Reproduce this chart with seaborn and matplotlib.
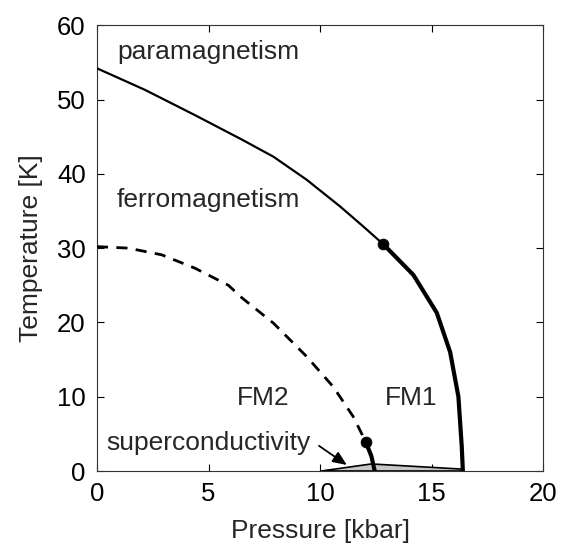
import matplotlib
matplotlib.use("Agg")
import matplotlib.pyplot as plt
import seaborn as sns

sns.set_theme(style="white")
plt.rcParams['font.family'] = ['Liberation Sans', 'DejaVu Sans']

# Curie temperature (paramagnetic / ferromagnetic boundary), thin part
tc_p = [0.0, 2.15, 4.39, 6.5, 7.91, 9.40, 10.9, 11.94, 12.84]
tc_t = [54.2, 51.3, 47.9, 44.6, 42.3, 39.2, 35.6, 32.9, 30.5]
# first-order part (thick)
tc1_p = [12.84, 14.18, 15.23, 15.83, 16.2, 16.35, 16.4]
tc1_t = [30.5, 26.4, 21.3, 16.0, 10.0, 3.3, 0.0]
# FM1/FM2 crossover (dashed)
tx_p = [0.0, 1.40, 2.9, 4.39, 5.89, 6.5, 7.91, 9.40, 10.6, 11.49, 12.05]
tx_t = [30.2, 30.0, 29.1, 27.3, 25.0, 23.3, 19.9, 15.4, 11.3, 7.3, 3.9]
# first-order part of Tx (thick)
tx1_p = [12.05, 12.3, 12.45]
tx1_t = [3.9, 2.0, 0.0]
# critical points
crit_p = [12.84, 12.05]
crit_t = [30.5, 3.9]
# superconducting dome
sc_p = [10.05, 12.3, 16.4, 16.4, 10.05]
sc_t = [0.0, 0.95, 0.25, 0.0, 0.0]

fig = plt.figure(figsize=(5.67, 5.48), dpi=100)
ax = fig.add_axes([0.171, 0.1405, 0.787, 0.8135])

ax.fill(sc_p, sc_t, facecolor="#c8c8c8", edgecolor="black", linewidth=1.2, zorder=2)

sns.lineplot(x=tc_p, y=tc_t, ax=ax, color="black", linewidth=1.6, sort=False, estimator=None, zorder=3)
sns.lineplot(x=tc1_p, y=tc1_t, ax=ax, color="black", linewidth=3.0, sort=False, estimator=None, zorder=3)
sns.lineplot(x=tx_p, y=tx_t, ax=ax, color="black", linewidth=2.0, sort=False, estimator=None,
             linestyle=(0, (4.0, 3.0)), zorder=3)
sns.lineplot(x=tx1_p, y=tx1_t, ax=ax, color="black", linewidth=3.0, sort=False, estimator=None, zorder=3)
sns.scatterplot(x=crit_p, y=crit_t, ax=ax, color="black", s=60, edgecolor="black", zorder=4)

fs = 19
ax.text(0.9, 56.4, "paramagnetism", fontsize=fs, va="center", ha="left")
ax.text(0.9, 36.5, "ferromagnetism", fontsize=fs, va="center", ha="left")
ax.text(6.26, 9.8, "FM2", fontsize=fs, va="center", ha="left")
ax.text(12.9, 9.8, "FM1", fontsize=fs, va="center", ha="left")
ax.text(0.43, 3.8, "superconductivity", fontsize=fs, va="center", ha="left")
ax.annotate("", xy=(11.3, 0.6), xytext=(9.85, 3.6),
            arrowprops=dict(arrowstyle="-|>,head_length=0.7,head_width=0.3", color="black", lw=1.3))

ax.set_xlim(0, 20)
ax.set_ylim(0, 60)
ax.set_xticks([0, 5, 10, 15, 20])
ax.set_yticks([0, 10, 20, 30, 40, 50, 60])
ax.set_xlabel("Pressure [kbar]", fontsize=fs, labelpad=9)
ax.set_ylabel("Temperature [K]", fontsize=fs, labelpad=10)
ax.tick_params(direction="in", length=5, width=0.8, colors="black", labelsize=18.5,
               top=True, right=True, bottom=True, left=True, pad=8)
for sp in ax.spines.values():
    sp.set_visible(True)
    sp.set_color("#333333")
    sp.set_linewidth(0.8)
ax.grid(False)

fig.savefig("out.png", dpi=100)
